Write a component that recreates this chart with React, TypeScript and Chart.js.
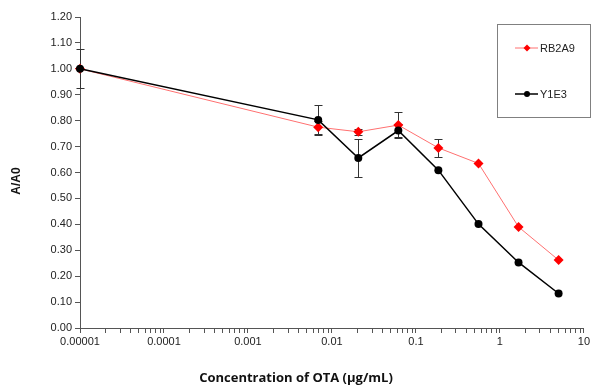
import React, { useEffect, useRef } from "react";
import { Chart, registerables } from "chart.js";

Chart.register(...registerables);

const concentrations = [0.00001, 0.00686, 0.0206, 0.0617, 0.185, 0.556, 1.667, 5];
const rb2a9Values = [1.0, 0.775, 0.757, 0.783, 0.695, 0.635, 0.39, 0.262];
const rb2a9Errors = [0, 0.025, 0.012, 0.05, 0.035, 0, 0, 0];
const y1e3Values = [1.0, 0.803, 0.656, 0.762, 0.609, 0.401, 0.253, 0.133];
const y1e3Errors = [0.075, 0.058, 0.075, 0.025, 0, 0, 0, 0];
const decadeLabels = ["0.00001", "0.0001", "0.001", "0.01", "0.1", "1", "10"];
const seriesNames = ["RB2A9", "Y1E3"];
const xTitle = "Concentration of OTA (µg/mL)";
const yTitle = "A/A0";

const errorBarPlugin = {
  id: "errorBars",
  beforeDatasetsDraw(chart: any) {
    const ctx = chart.ctx;
    const xs = chart.scales.x;
    const ys = chart.scales.y;
    ctx.save();
    ctx.strokeStyle = "#333";
    ctx.lineWidth = 1;
    chart.data.datasets.forEach((ds: any) => {
      const errs: number[] = ds.errors || [];
      ds.data.forEach((p: any, i: number) => {
        const e = errs[i];
        if (!e) return;
        const x = Math.round(xs.getPixelForValue(p.x)) + 0.5;
        const yt = Math.round(ys.getPixelForValue(p.y + e)) + 0.5;
        const yb = Math.round(ys.getPixelForValue(p.y - e)) + 0.5;
        ctx.beginPath();
        ctx.moveTo(x, yt);
        ctx.lineTo(x, yb);
        ctx.moveTo(x - 4, yt);
        ctx.lineTo(x + 4, yt);
        ctx.moveTo(x - 4, yb);
        ctx.lineTo(x + 4, yb);
        ctx.stroke();
      });
    });
    ctx.restore();
  },
};

const titlesPlugin = {
  id: "titles",
  afterDraw(chart: any) {
    const ctx = chart.ctx;
    ctx.save();
    ctx.fillStyle = "#111";
    ctx.textAlign = "center";
    ctx.textBaseline = "middle";
    ctx.font = "bold 13px 'Open Sans', sans-serif";
    ctx.fillText(xTitle, 296, 378);
    ctx.translate(17, 181);
    ctx.rotate(-Math.PI / 2);
    ctx.font = "bold 12px 'Liberation Sans', Arial, sans-serif";
    ctx.fillText(yTitle, 0, 0);
    ctx.restore();
  },
};

const legendPlugin = {
  id: "boxLegend",
  afterDraw(chart: any) {
    const ctx = chart.ctx;
    ctx.save();
    ctx.strokeStyle = "#808080";
    ctx.lineWidth = 1;
    ctx.strokeRect(497.5, 24.5, 93, 93);
    const entries = [
      { y: 48, line: "#ff7070", fill: "#ff0000", style: "diamond", name: seriesNames[0] },
      { y: 94, line: "#000", fill: "#000", style: "circle", name: seriesNames[1] },
    ];
    entries.forEach((en) => {
      ctx.strokeStyle = en.line;
      ctx.lineWidth = en.style === "circle" ? 1.5 : 1;
      ctx.beginPath();
      ctx.moveTo(515, en.y);
      ctx.lineTo(538, en.y);
      ctx.stroke();
      ctx.fillStyle = en.fill;
      ctx.beginPath();
      if (en.style === "circle") {
        ctx.arc(527, en.y, 3, 0, Math.PI * 2);
      } else {
        ctx.moveTo(527, en.y - 3.5);
        ctx.lineTo(530.5, en.y);
        ctx.lineTo(527, en.y + 3.5);
        ctx.lineTo(523.5, en.y);
        ctx.closePath();
      }
      ctx.fill();
      ctx.fillStyle = "#222";
      ctx.font = "11px 'Liberation Sans', Arial, sans-serif";
      ctx.textBaseline = "middle";
      ctx.textAlign = "left";
      ctx.fillText(en.name, 540, en.y + 0.5);
    });
    ctx.restore();
  },
};

export default function App() {
  const ref = useRef<HTMLCanvasElement>(null);
  useEffect(() => {
    document.body.style.margin = "0";
    const canvas = ref.current!;
    const toPts = (vals: number[]) => vals.map((v, i) => ({ x: concentrations[i], y: v }));
    const chart = new Chart(canvas, {
      type: "line",
      data: {
        datasets: [
          {
            label: seriesNames[0],
            data: toPts(rb2a9Values),
            errors: rb2a9Errors,
            borderColor: "#ff7070",
            borderWidth: 1,
            pointStyle: "rectRot",
            pointRadius: 5,
            pointBackgroundColor: "#ff0000",
            pointBorderColor: "#ff0000",
            pointBorderWidth: 0,
            clip: false,
            order: 2,
          } as any,
          {
            label: seriesNames[1],
            data: toPts(y1e3Values),
            errors: y1e3Errors,
            borderColor: "#000",
            borderWidth: 1.5,
            pointStyle: "circle",
            pointRadius: 4,
            pointBackgroundColor: "#000",
            pointBorderColor: "#000",
            pointBorderWidth: 0,
            clip: false,
            order: 1,
          } as any,
        ],
      },
      options: {
        animation: false,
        responsive: false,
        layout: { padding: { top: 17, right: 8, left: 0, bottom: 0 } },
        plugins: { legend: { display: false }, tooltip: { enabled: false } },
        scales: {
          x: {
            type: "logarithmic",
            min: 0.00001,
            max: 10,
            afterBuildTicks(scale: any) {
              const t: any[] = [];
              for (let e = -5; e <= 1; e++) {
                for (let m = 1; m <= 9; m++) {
                  const v = m * Math.pow(10, e);
                  if (v > 10.0001) break;
                  t.push({ value: v, major: m === 1 });
                }
              }
              scale.ticks = t;
            },
            afterFit(scale: any) {
              scale.height = 57;
            },
            grid: {
              drawOnChartArea: false,
              drawTicks: true,
              tickLength: 5,
              tickColor: "#555",
            },
            border: { color: "#555", width: 1 },
            ticks: {
              autoSkip: false,
              maxRotation: 0,
              padding: 2,
              color: "#222",
              font: { family: "'Liberation Sans', Arial, sans-serif", size: 11 },
              callback: (v: any) => {
                const e = Math.log10(Number(v));
                if (Math.abs(e - Math.round(e)) < 1e-6) {
                  return decadeLabels[Math.round(e) + 5];
                }
                return "";
              },
            },
          },
          y: {
            min: 0,
            max: 1.2,
            afterFit(scale: any) {
              scale.width = 80;
            },
            grid: {
              drawOnChartArea: false,
              drawTicks: true,
              tickLength: 5,
              tickColor: "#555",
            },
            border: { color: "#555", width: 1 },
            ticks: {
              stepSize: 0.1,
              padding: 3,
              color: "#222",
              font: { family: "'Liberation Sans', Arial, sans-serif", size: 11 },
              callback: (v: any) => Number(v).toFixed(2),
            },
          },
        },
      } as any,
      plugins: [errorBarPlugin, legendPlugin, titlesPlugin],
    });
    return () => chart.destroy();
  }, []);
  return <canvas ref={ref} width={592} height={385} style={{ display: "block" }} />;
}
